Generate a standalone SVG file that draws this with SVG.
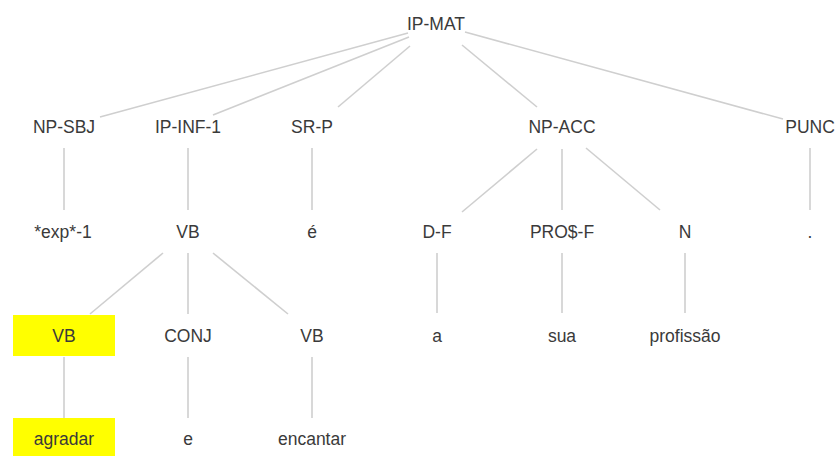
<svg xmlns="http://www.w3.org/2000/svg" width="839" height="456" viewBox="0 0 839 456">
<style>
text{font-family:"Liberation Sans",Arial,sans-serif;font-size:17.5px;fill:#3a3a3a;text-anchor:middle}
.e{stroke:#cfcfcf;stroke-width:1.6;fill:none}
.hl{fill:#ffff00}
</style>
<rect width="839" height="456" fill="#ffffff"/>
<g id="connectors" class="e">
<line x1="408" y1="33" x2="100" y2="117"/>
<line x1="409" y1="37" x2="213" y2="115"/>
<line x1="410" y1="46" x2="338" y2="107"/>
<line x1="462" y1="45" x2="537" y2="107"/>
<line x1="465" y1="32" x2="783" y2="119"/>
<line x1="64" y1="148" x2="64" y2="210"/>
<line x1="188" y1="148" x2="188" y2="210"/>
<line x1="312" y1="148" x2="312" y2="210"/>
<line x1="537" y1="149" x2="462" y2="212"/>
<line x1="562" y1="149" x2="562" y2="210"/>
<line x1="586" y1="148" x2="660" y2="210"/>
<line x1="810" y1="148" x2="810" y2="210"/>
<line x1="163" y1="253" x2="90" y2="314"/>
<line x1="188" y1="253" x2="188" y2="314"/>
<line x1="213" y1="253" x2="288" y2="314"/>
<line x1="437" y1="253" x2="437" y2="313"/>
<line x1="562" y1="253" x2="562" y2="313"/>
<line x1="685" y1="253" x2="685" y2="313"/>
<line x1="64" y1="357" x2="64" y2="418"/>
<line x1="188" y1="357" x2="188" y2="418"/>
<line x1="312" y1="357" x2="312" y2="418"/>
</g>
<g id="n-ipmat"><text x="436" y="30">IP-MAT</text></g>
<g id="n-npsbj"><text x="64" y="133">NP-SBJ</text></g>
<g id="n-ipinf"><text x="188" y="133">IP-INF-1</text></g>
<g id="n-srp"><text x="312" y="133">SR-P</text></g>
<g id="n-npacc"><text x="562" y="133">NP-ACC</text></g>
<g id="n-punc"><text x="810" y="133">PUNC</text></g>
<g id="n-exp"><text x="63" y="238">*exp*-1</text></g>
<g id="n-vb1"><text x="188" y="238">VB</text></g>
<g id="n-e1"><text x="312" y="238">é</text></g>
<g id="n-df"><text x="437" y="238">D-F</text></g>
<g id="n-pros"><text x="562" y="238">PRO$-F</text></g>
<g id="n-n"><text x="685" y="238">N</text></g>
<g id="n-dot"><text x="810" y="238">.</text></g>
<g id="n-vb2"><rect class="hl" x="13" y="315" width="102" height="41"/><text x="64" y="342">VB</text></g>
<g id="n-conj"><text x="188" y="342">CONJ</text></g>
<g id="n-vb3"><text x="312" y="342">VB</text></g>
<g id="n-a"><text x="437" y="342">a</text></g>
<g id="n-sua"><text x="562" y="342">sua</text></g>
<g id="n-prof"><text x="685" y="342">profissão</text></g>
<g id="n-agradar"><rect class="hl" x="13" y="418" width="102" height="41"/><text x="64" y="445">agradar</text></g>
<g id="n-e2"><text x="188" y="445">e</text></g>
<g id="n-encantar"><text x="312" y="445">encantar</text></g>
</svg>
